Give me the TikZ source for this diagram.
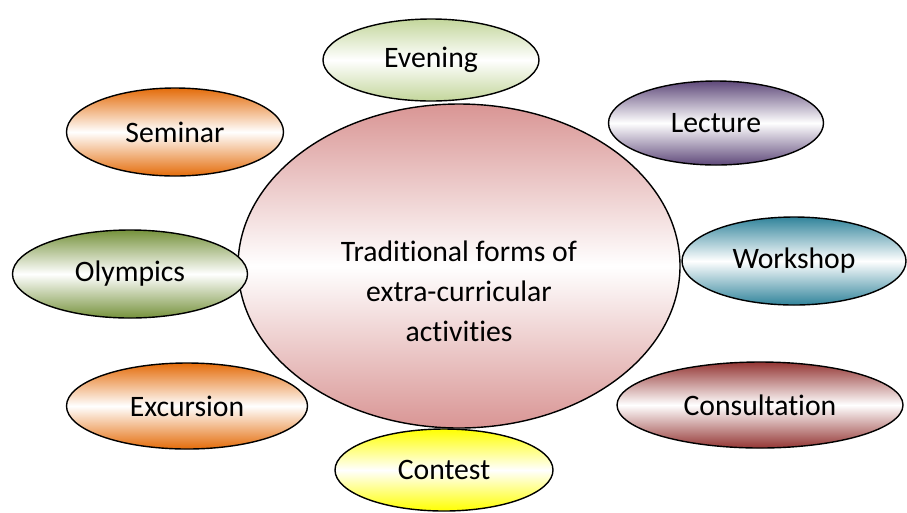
\documentclass[tikz,border=0pt]{standalone}
\usepackage{fontspec}
\setmainfont[Ligatures=NoCommon]{Carlito}
\usetikzlibrary{shapes.geometric}

\definecolor{rosa}{HTML}{D99594}
\definecolor{naranja}{HTML}{E46C0A}
\definecolor{oliva}{HTML}{C3D69B}
\definecolor{morado}{HTML}{5F497A}
\definecolor{azulado}{HTML}{31849B}
\definecolor{granate}{HTML}{943634}
\definecolor{amarillo}{HTML}{FFFF00}
\definecolor{verde}{HTML}{76923C}

\tikzset{
  forma/.style={ellipse, draw=black, line width=0.8pt, inner sep=0pt,
    top color=#1, bottom color=#1, middle color=white,
    font=\fontsize{16.9}{22.7}\selectfont},
}

\begin{document}
\begin{tikzpicture}
    % Marco de la imagen
    \useasboundingbox (0,0) rectangle (18.14,-10.24);

    % Elipse central con las formas tradicionales
    \node[forma=rosa, minimum width=8.84cm, minimum height=6.48cm] (trad) at (9.18,-5.32) {};
    \node[font=\fontsize{16.9}{22.7}\selectfont, align=center] (tradtxt) at ([yshift=-0.5cm]trad.center)
        {Traditional forms of\\extra-curricular\\activities};

    % Formas alrededor
    \node[forma=oliva, minimum width=4.32cm, minimum height=1.64cm] (evening) at (8.62,-1.2) {Evening};
    \node[forma=naranja, minimum width=4.34cm, minimum height=1.76cm] (seminar) at (3.5,-2.64) {Seminar};
    \node[forma=morado, minimum width=4.3cm, minimum height=1.68cm] (lecture) at (14.32,-2.46) {Lecture};
    \node[forma=azulado, minimum width=4.48cm, minimum height=1.76cm] (workshop) at (15.88,-5.22) {Workshop};
    \node[forma=verde, minimum width=4.7cm, minimum height=1.76cm] (olympics) at (2.6,-5.48) {Olympics};
    \node[forma=naranja, minimum width=4.82cm, minimum height=1.72cm] (excursion) at (3.74,-8.12) {Excursion};
    \node[forma=granate, minimum width=5.72cm, minimum height=1.72cm] (consultation) at (15.2,-8.1) {Consultation};
    \node[forma=amarillo, minimum width=4.36cm, minimum height=1.64cm] (contest) at (8.88,-9.4) {Contest};

\end{tikzpicture}
\end{document}
